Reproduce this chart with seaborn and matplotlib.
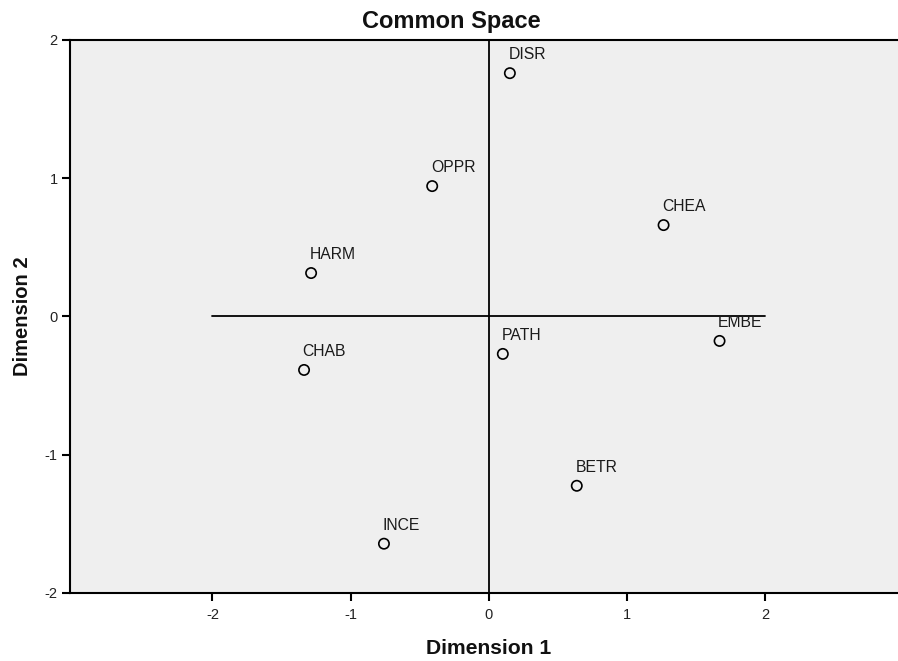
import matplotlib
matplotlib.use("Agg")
import matplotlib.pyplot as plt
import seaborn as sns
import pandas as pd

labels = ["DISR", "OPPR", "CHEA", "HARM", "EMBE", "PATH", "CHAB", "BETR", "INCE"]
dim1 = [0.152, -0.41, 1.264, -1.286, 1.669, 0.101, -1.337, 0.636, -0.759]
dim2 = [1.76, 0.943, 0.661, 0.314, -0.177, -0.271, -0.387, -1.225, -1.644]
xticks = [-2, -1, 0, 1, 2]
yticks = [-2, -1, 0, 1, 2]

df = pd.DataFrame({"Dimension 1": dim1, "Dimension 2": dim2, "label": labels})

sns.set_style("white")
plt.rcParams['font.family'] = ['Arial', 'Liberation Sans', 'DejaVu Sans']

fig = plt.figure(figsize=(8.98, 6.61), dpi=100)
ax = fig.add_axes([0.078, 0.103, 0.922, 0.8365])
ax.set_facecolor("#efefef")

ax.plot([-2, 2], [0, 0], color="black", lw=1.3, zorder=1)
ax.plot([0, 0], [-2, 2], color="black", lw=1.3, zorder=1)

sns.scatterplot(data=df, x="Dimension 1", y="Dimension 2", ax=ax, marker="o",
                s=55, facecolor="none", edgecolor="black", linewidth=1.2, zorder=3)

for xv, yv, lab in zip(dim1, dim2, labels):
    ax.annotate(lab, (xv, yv), xytext=(-1, 8), textcoords="offset points",
                fontsize=11.3, color="#1a1a1a", ha="left", va="bottom")

ax.set_xlim(-3.03, 2.96)
ax.set_ylim(-2, 2)
ax.set_xticks(xticks)
ax.set_yticks(yticks)
ax.set_xticklabels([str(t) for t in xticks])
ax.set_yticklabels([str(t) for t in yticks])
ax.tick_params(axis="both", direction="out", length=6, width=1.5, colors="black",
               labelsize=10.5, labelcolor="#222222", pad=3, bottom=True, left=True)
ax.tick_params(axis="x", pad=5)

for s in ["left", "top", "bottom"]:
    ax.spines[s].set_color("black")
    ax.spines[s].set_linewidth(1.5)
ax.spines["right"].set_visible(False)

ax.set_xlabel("Dimension 1", fontsize=15.2, fontweight="bold", labelpad=12, x=0.506,
              color="#111111")
ax.set_ylabel("Dimension 2", fontsize=14.5, fontweight="bold", labelpad=9, color="#111111")
fig.text(0.503, 0.968, "Common Space", fontsize=17, fontweight="bold", ha="center",
         va="center", color="#111111")

fig.savefig("out.png", dpi=100)
